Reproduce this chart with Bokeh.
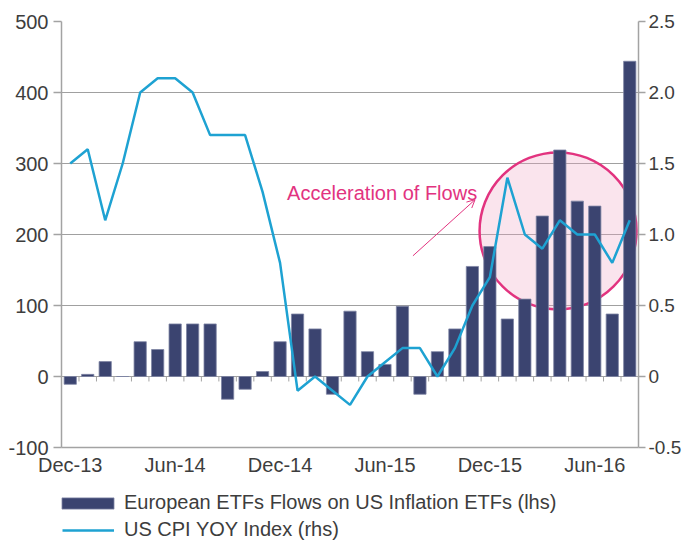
from bokeh.plotting import figure
from bokeh.layouts import column
from bokeh.models import (Range1d, LinearAxis, FixedTicker, Legend, LegendItem,
                          Label, Arrow, OpenHead, ColumnDataSource)
from bokeh.embed import file_html
from bokeh.resources import INLINE

# ---------------- data ----------------
months = ["Dec-13", "Jan-14", "Feb-14", "Mar-14", "Apr-14", "May-14", "Jun-14",
          "Jul-14", "Aug-14", "Sep-14", "Oct-14", "Nov-14", "Dec-14", "Jan-15",
          "Feb-15", "Mar-15", "Apr-15", "May-15", "Jun-15", "Jul-15", "Aug-15",
          "Sep-15", "Oct-15", "Nov-15", "Dec-15", "Jan-16", "Feb-16", "Mar-16",
          "Apr-16", "May-16", "Jun-16", "Jul-16", "Aug-16"]
flows = [-11, 3, 21, 0, 49, 38, 74, 74, 74, -32, -18, 7, 49, 88, 67, -25,
         92, 35, 17, 99, -25, 35, 67, 155, 183, 81, 109, 226, 319, 247, 240, 88, 444]
cpi = [1.5, 1.6, 1.1, 1.5, 2.0, 2.1, 2.1, 2.0, 1.7, 1.7, 1.7, 1.3, 0.8, -0.1,
       0.0, -0.1, -0.2, 0.0, 0.1, 0.2, 0.2, 0.0, 0.2, 0.5, 0.7, 1.4, 1.0, 0.9,
       1.1, 1.0, 1.0, 0.8, 1.1]
x_tick_months = ["Dec-13", "Jun-14", "Dec-14", "Jun-15", "Dec-15", "Jun-16"]
left_ticks = [-100, 0, 100, 200, 300, 400, 500]
left_tick_labels = ["-100", "0", "100", "200", "300", "400", "500"]
right_ticks = [-0.5, 0.0, 0.5, 1.0, 1.5, 2.0, 2.5]
right_tick_labels = ["-0.5", "0", "0.5", "1.0", "1.5", "2.0", "2.5"]
bar_label = "European ETFs Flows on US Inflation ETFs (lhs)"
line_label = "US CPI YOY Index (rhs)"
note_text = "Acceleration of Flows"

# ---------------- styling ----------------
FONT = "Liberation Sans"
TXT = "#3d3d3d"
AXC = "#a3a3a3"
NAVY = "#3b4470"
BAR_EDGE = "#7d84a3"
BLUE = "#1ea2d2"
PINK = "#e2337f"
W = 684
H_MAIN = 478
H_LEG = 63

idx = list(range(len(months)))
src = ColumnDataSource(dict(x=idx, month=months, flows=flows, cpi=cpi))

p = figure(width=W, height=H_MAIN, output_backend="svg", toolbar_location=None,
           x_range=Range1d(-0.5, len(months) - 0.5), y_range=Range1d(-100, 500),
           min_border_left=61, min_border_right=38, min_border_top=21,
           min_border_bottom=31)
p.outline_line_color = None
p.background_fill_color = "white"
p.extra_y_ranges = {"cpi": Range1d(-0.5, 2.5)}

# grid
p.xgrid.visible = False
p.ygrid.ticker = FixedTicker(ticks=left_ticks)
p.ygrid.grid_line_color = "#a0a0a0"
p.ygrid.grid_line_width = 1

# highlight circle (under bars)
p.scatter(x=[27.9], y=[205], marker="circle", size=157,
          fill_color="#f0a6c2", fill_alpha=0.3,
          line_color=PINK, line_width=2.5)

# category boundary ticks on the zero line
bounds = [i - 0.5 for i in range(len(months) + 1)]
p.segment(x0=bounds, y0=[0] * len(bounds), x1=bounds, y1=[-7] * len(bounds),
          line_color=AXC, line_width=1)

bars = p.vbar(x="x", top="flows", bottom=0, width=0.7, source=src,
              fill_color=NAVY, line_color=BAR_EDGE, line_width=0.8)
line = p.line(x="x", y="cpi", source=src, y_range_name="cpi",
              line_color=BLUE, line_width=2.5)

# axes
ly = p.yaxis[0]
ly.ticker = FixedTicker(ticks=left_ticks)
ly.major_label_overrides = {t: s for t, s in zip(left_ticks, left_tick_labels)}
ry = LinearAxis(y_range_name="cpi", ticker=FixedTicker(ticks=right_ticks))
ry.major_label_overrides = {t: s for t, s in zip(right_ticks, right_tick_labels)}
p.add_layout(ry, "right")

for ax in (ly, ry):
    ax.axis_line_color = AXC
    ax.axis_line_width = 1.5
    ax.major_tick_line_color = AXC
    ax.major_tick_line_width = 1.5
    ax.major_tick_in = 0
    ax.minor_tick_line_color = None
    ax.major_label_text_font = FONT
    ax.major_label_text_color = TXT
ly.major_tick_out = 8
ly.major_label_standoff = 5
ly.major_label_text_font_size = "20px"
ry.major_tick_out = 7
ry.major_label_standoff = 3
ry.major_label_text_font_size = "19px"

bx = p.xaxis[0]
x_tick_pos = [months.index(m) for m in x_tick_months]
bx.ticker = FixedTicker(ticks=x_tick_pos)
bx.major_label_overrides = {t: m for t, m in zip(x_tick_pos, x_tick_months)}
bx.axis_line_color = AXC
bx.axis_line_width = 1.5
bx.major_tick_line_color = None
bx.major_tick_out = 0
bx.major_tick_in = 0
bx.minor_tick_line_color = None
bx.major_label_standoff = 6
bx.major_label_text_font = FONT
bx.major_label_text_font_size = "20px"
bx.major_label_text_color = TXT

# annotation
p.add_layout(Label(x=12.4, y=259, text=note_text, text_font=FONT,
                   text_font_size="20px", text_color=PINK,
                   text_baseline="alphabetic", text_align="left"))
p.add_layout(Arrow(end=OpenHead(size=8, line_color=PINK, line_width=1),
                   x_start=19.6, y_start=170, x_end=23.15, y_end=249,
                   line_color=PINK, line_width=1))

# ---------------- legend strip below the chart ----------------
# same series drawn into a strip whose y range lies above all values,
# so only the legend entries show
pl = figure(width=W, height=H_LEG, output_backend="svg", toolbar_location=None,
            x_range=Range1d(-0.5, len(months) - 0.5),
            y_range=Range1d(1000, 1000 + H_LEG), min_border=0)
pl.outline_line_color = None
pl.axis.visible = False
pl.grid.visible = False
leg_bars = pl.vbar(x="x", top="flows", bottom=0, width=0.7, source=src,
                   fill_color=NAVY, line_color=BAR_EDGE, line_width=0.8)
leg_line = pl.line(x="x", y="cpi", source=src, line_color=BLUE, line_width=2.5)


def make_legend(item, loc, gw, gh, standoff):
    return Legend(items=[item], location=loc, orientation="vertical",
                  glyph_width=gw, glyph_height=gh, label_standoff=standoff,
                  label_text_font=FONT, label_text_font_size="20px",
                  label_text_color=TXT, label_height=20, padding=0, margin=0,
                  spacing=0, border_line_color=None, background_fill_alpha=0)


pl.add_layout(make_legend(LegendItem(label=bar_label, renderers=[leg_bars]),
                          (-6, 27), 65, 14, 4))
pl.add_layout(make_legend(LegendItem(label=line_label, renderers=[leg_line]),
                          (1, 0), 52, 14, 10))

layout = column(p, pl, spacing=0)
open("out.html", "w").write(file_html(layout, INLINE))
